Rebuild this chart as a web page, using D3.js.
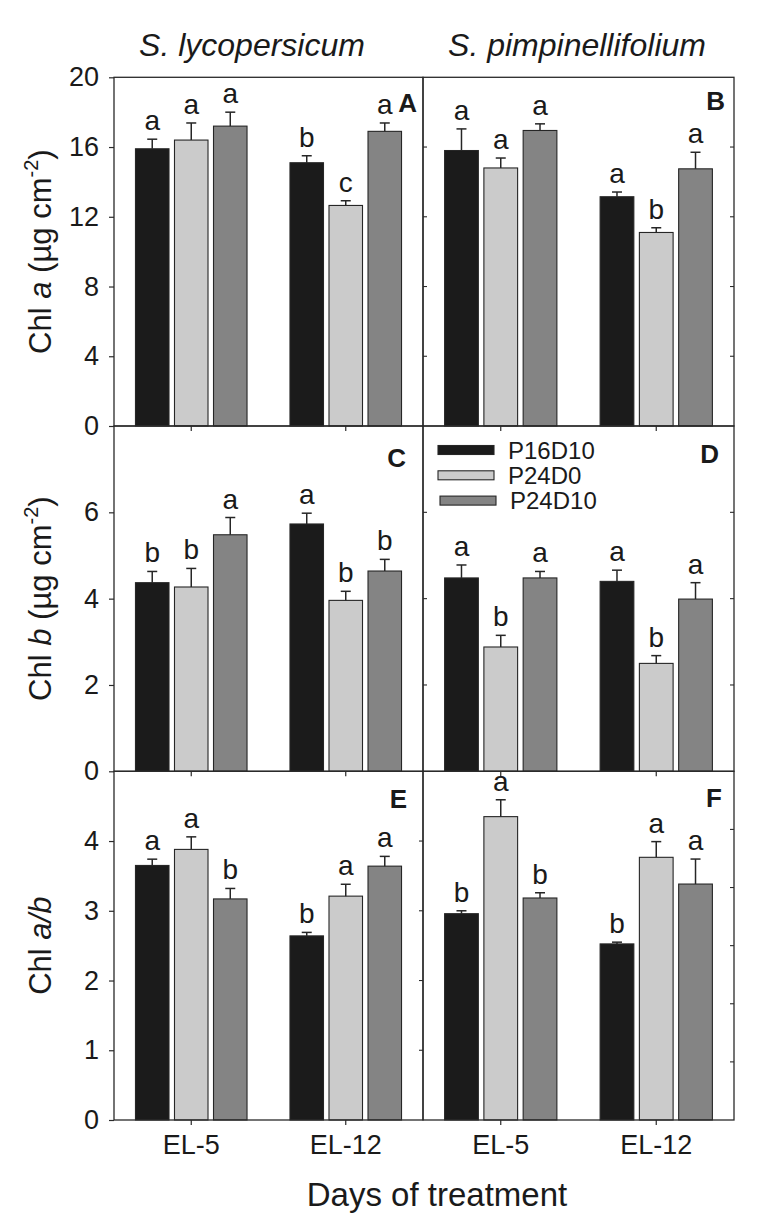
<!DOCTYPE html>
<html><head><meta charset="utf-8">
<script src="https://cdn.jsdelivr.net/npm/d3@7"></script>
<style>
body{margin:0;background:#fff}
text{font-family:"Liberation Sans",Arial,Helvetica,sans-serif;fill:#1a1a1a}
</style>
</head><body>
<svg id="chart" width="775" height="1223"></svg>
<script>
// ---------- data ----------
const groups = ["EL-5", "EL-12"];
const treatments = ["P16D10", "P24D0", "P24D10"];
const speciesNames = ["S. lycopersicum", "S. pimpinellifolium"];
const panelIds = ["A", "B", "C", "D", "E", "F"];

// values listed EL-5 (P16D10, P24D0, P24D10), EL-12 (P16D10, P24D0, P24D10)
const chlA_lyco_mean = [15.9, 16.4, 17.2, 15.1, 12.65, 16.9];
const chlA_lyco_err  = [0.55, 0.98, 0.8, 0.4, 0.27, 0.48];
const chlA_lyco_sig  = ["a", "a", "a", "b", "c", "a"];

const chlA_pimp_mean = [15.8, 14.8, 16.95, 13.15, 11.1, 14.75];
const chlA_pimp_err  = [1.24, 0.57, 0.38, 0.27, 0.27, 0.95];
const chlA_pimp_sig  = ["a", "a", "a", "a", "b", "a"];

const chlB_lyco_mean = [4.37, 4.27, 5.48, 5.73, 3.96, 4.64];
const chlB_lyco_err  = [0.26, 0.43, 0.4, 0.25, 0.21, 0.27];
const chlB_lyco_sig  = ["b", "b", "a", "a", "b", "b"];

const chlB_pimp_mean = [4.48, 2.88, 4.48, 4.4, 2.5, 3.99];
const chlB_pimp_err  = [0.3, 0.27, 0.15, 0.26, 0.18, 0.38];
const chlB_pimp_sig  = ["a", "b", "a", "a", "b", "a"];

const ratio_lyco_mean = [3.65, 3.88, 3.17, 2.64, 3.21, 3.64];
const ratio_lyco_err  = [0.09, 0.18, 0.15, 0.05, 0.17, 0.14];
const ratio_lyco_sig  = ["a", "a", "b", "b", "a", "a"];

const ratio_pimp_mean = [3.55, 5.22, 3.82, 3.03, 4.52, 4.06];
const ratio_pimp_err  = [0.05, 0.29, 0.09, 0.03, 0.27, 0.43];
const ratio_pimp_sig  = ["b", "a", "b", "b", "a", "a"];

const yMaxA = 20, yTicksA = [0, 4, 8, 12, 16, 20];
const yMaxC = 8,  yTicksC = [0, 2, 4, 6];
const yMaxE = 5,  yTicksE = [0, 1, 2, 3, 4];
const yMaxF = 6,  yTicksF = [1, 2, 3, 4, 5];

// ---------- style / layout ----------
const fills = {"P16D10": "#1b1b1b", "P24D0": "#cbcbcb", "P24D10": "#848484"};
const strokeC = "#262626";
const colX = [[114, 423], [423, 734]];
const rowY = [[77.3, 426], [426, 771.3], [771.3, 1120]];

const svg = d3.select("#chart");

const panels = [
  {id: "A", col: 0, row: 0, mean: chlA_lyco_mean, err: chlA_lyco_err, sig: chlA_lyco_sig, max: yMaxA, ticks: yTicksA, lx: 6, ly: 35},
  {id: "B", col: 1, row: 0, mean: chlA_pimp_mean, err: chlA_pimp_err, sig: chlA_pimp_sig, max: yMaxA, ticks: yTicksA, lx: 9, ly: 33},
  {id: "C", col: 0, row: 1, mean: chlB_lyco_mean, err: chlB_lyco_err, sig: chlB_lyco_sig, max: yMaxC, ticks: yTicksC, lx: 17, ly: 41},
  {id: "D", col: 1, row: 1, mean: chlB_pimp_mean, err: chlB_pimp_err, sig: chlB_pimp_sig, max: yMaxC, ticks: yTicksC, lx: 15, ly: 37},
  {id: "E", col: 0, row: 2, mean: ratio_lyco_mean, err: ratio_lyco_err, sig: ratio_lyco_sig, max: yMaxE, ticks: yTicksE, lx: 16, ly: 37},
  {id: "F", col: 1, row: 2, mean: ratio_pimp_mean, err: ratio_pimp_err, sig: ratio_pimp_sig, max: yMaxF, ticks: yTicksF, lx: 12, ly: 36}
];

const scales = {};

panels.forEach(p => {
  const [x0r, x1r] = colX[p.col];
  const [yT, yB] = rowY[p.row];
  const y = d3.scaleLinear().domain([0, p.max]).range([yB, yT]);
  const xg = d3.scaleBand().domain(groups).range([x0r, x1r]).paddingInner(0.278).paddingOuter(0.139);
  const xt = d3.scaleBand().domain(treatments).range([0, xg.bandwidth()]).paddingInner(0.141);
  scales[p.id] = {y, xg, xt};

  const recs = [];
  groups.forEach((g, gi) => treatments.forEach((t, ti) => {
    const k = gi * 3 + ti;
    recs.push({g, t, v: p.mean[k], e: p.err[k], s: p.sig[k]});
  }));

  const gp = svg.append("g");
  gp.selectAll("rect.bar").data(recs).join("rect")
    .attr("class", "bar")
    .attr("x", d => xg(d.g) + xt(d.t))
    .attr("width", xt.bandwidth())
    .attr("y", d => y(d.v))
    .attr("height", d => y(0) - y(d.v))
    .attr("fill", d => fills[d.t])
    .attr("stroke", strokeC).attr("stroke-width", 1.1);
  const cx = d => xg(d.g) + xt(d.t) + xt.bandwidth() / 2;
  gp.selectAll("line.ev").data(recs).join("line")
    .attr("x1", cx).attr("x2", cx)
    .attr("y1", d => y(d.v)).attr("y2", d => y(d.v + d.e))
    .attr("stroke", strokeC).attr("stroke-width", 1.5);
  gp.selectAll("line.ec").data(recs).join("line")
    .attr("x1", d => cx(d) - 5).attr("x2", d => cx(d) + 5)
    .attr("y1", d => y(d.v + d.e)).attr("y2", d => y(d.v + d.e))
    .attr("stroke", strokeC).attr("stroke-width", 1.5);
  gp.selectAll("text.sig").data(recs).join("text")
    .attr("x", cx).attr("y", d => y(d.v + d.e) - 9)
    .attr("text-anchor", "middle")
    .style("font-size", "28px")
    .text(d => d.s);

  gp.append("rect").attr("x", x0r).attr("y", yT).attr("width", x1r - x0r).attr("height", yB - yT)
    .attr("fill", "none").attr("stroke", "#2a2a2a").attr("stroke-width", 1.3);

  gp.selectAll("line.xt").data(groups).join("line")
    .attr("x1", g => xg(g) + xg.bandwidth() / 2).attr("x2", g => xg(g) + xg.bandwidth() / 2)
    .attr("y1", yB).attr("y2", yB + 5)
    .attr("stroke", "#2a2a2a").attr("stroke-width", 1.2);

  gp.append("text").attr("x", x1r - p.lx).attr("y", yT + p.ly)
    .attr("text-anchor", "end").style("font-size", "26px").style("font-weight", "bold")
    .text(p.id);
});

// y axes on left column
panels.filter(p => p.col === 0).forEach(p => {
  const y = scales[p.id].y;
  const ax = d3.axisLeft(y).tickValues(p.ticks).tickSize(5).tickPadding(10).tickFormat(d3.format("d"));
  const g = svg.append("g").attr("transform", `translate(${colX[0][0]},0)`).call(ax);
  g.select(".domain").remove();
  g.selectAll(".tick line").attr("stroke", "#2a2a2a").attr("stroke-width", 1.2);
  g.selectAll(".tick text").style("font-size", "27px").attr("fill", "#1a1a1a")
    .attr("font-family", "Liberation Sans, Arial, sans-serif");
});

function innerTicks(scale, vals, x, dir) {
  svg.append("g").selectAll("line").data(vals).join("line")
    .attr("x1", x).attr("x2", x + dir * 4)
    .attr("y1", d => scale(d)).attr("y2", d => scale(d))
    .attr("stroke", "#2a2a2a").attr("stroke-width", 1.1);
}
innerTicks(scales.A.y, yTicksA.slice(1, -1), colX[1][0], 1);
innerTicks(scales.B.y, yTicksA.slice(1, -1), colX[1][1], -1);
innerTicks(scales.C.y, yTicksC.slice(1), colX[1][0], 1);
innerTicks(scales.D.y, yTicksC.slice(1), colX[1][1], -1);
innerTicks(scales.E.y, yTicksE.slice(1), colX[0][1], -1);
innerTicks(scales.F.y, yTicksF, colX[1][1], -1);

[0, 1].forEach(c => {
  const xg = scales[c === 0 ? "E" : "F"].xg;
  svg.append("g").selectAll("text").data(groups).join("text")
    .attr("x", g => xg(g) + xg.bandwidth() / 2).attr("y", 1154)
    .attr("text-anchor", "middle").style("font-size", "27px")
    .text(g => g);
});

svg.append("text").attr("x", 252).attr("y", 56).attr("text-anchor", "middle")
  .style("font-size", "32px").style("font-style", "italic").text(speciesNames[0]);
svg.append("text").attr("x", 577).attr("y", 56).attr("text-anchor", "middle")
  .style("font-size", "32px").style("font-style", "italic").text(speciesNames[1]);

svg.append("text").attr("x", 437).attr("y", 1206).attr("text-anchor", "middle")
  .style("font-size", "33px").text("Days of treatment");

function yTitle(cy, parts) {
  const t = svg.append("text")
    .attr("transform", `translate(51,${cy}) rotate(-90)`)
    .attr("text-anchor", "middle").style("font-size", "31px");
  parts.forEach(pt => {
    const s = t.append("tspan").text(pt.t);
    if (pt.i) s.style("font-style", "italic");
    if (pt.sup) s.attr("dy", -13).style("font-size", "20px");
    if (pt.after) s.attr("dy", 13);
  });
}
yTitle((rowY[0][0] + rowY[0][1]) / 2, [{t: "Chl "}, {t: "a", i: true}, {t: " (µg cm"}, {t: "-2", sup: true}, {t: ")", after: true}]);
yTitle((rowY[1][0] + rowY[1][1]) / 2, [{t: "Chl "}, {t: "b", i: true}, {t: " (µg cm"}, {t: "-2", sup: true}, {t: ")", after: true}]);
yTitle((rowY[2][0] + rowY[2][1]) / 2, [{t: "Chl "}, {t: "a/b", i: true}]);

const lg = svg.append("g").attr("transform", "translate(438,450)");
treatments.forEach((t, i) => {
  lg.append("rect").attr("x", i === 2 ? 2 : 0).attr("y", i * 25.3 - 4.5).attr("width", 56).attr("height", 9)
    .attr("fill", fills[t]).attr("stroke", strokeC).attr("stroke-width", 1.1);
  lg.append("text").attr("x", i === 2 ? 72 : 70).attr("y", i * 25.3 + 8.5).style("font-size", "24px").text(t);
});
</script>
</body></html>
